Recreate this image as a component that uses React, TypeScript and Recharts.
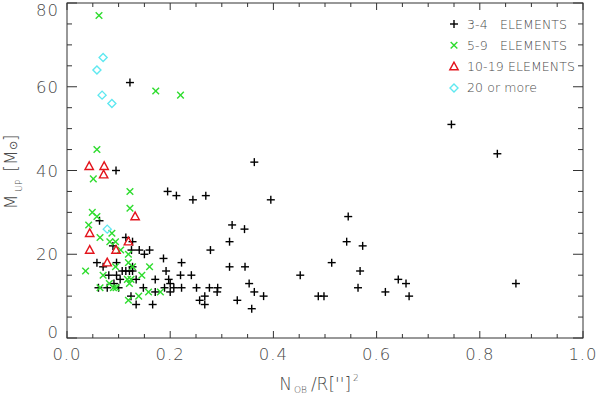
import React from "react";
import * as R from "recharts";
import { ScatterChart, Scatter, XAxis, YAxis, Customized } from "recharts";

type P = { x: number; y: number };

const elements3to4: P[] = [
  { x: 0.122, y: 61 }, { x: 0.095, y: 40 }, { x: 0.363, y: 42 }, { x: 0.745, y: 51 }, { x: 0.834, y: 44 },
  { x: 0.195, y: 35 }, { x: 0.212, y: 34 }, { x: 0.244, y: 33 }, { x: 0.269, y: 34 }, { x: 0.395, y: 33 },
  { x: 0.320, y: 27 }, { x: 0.344, y: 26 }, { x: 0.315, y: 23 }, { x: 0.278, y: 21 }, { x: 0.222, y: 18 },
  { x: 0.187, y: 19 }, { x: 0.315, y: 17 }, { x: 0.345, y: 17 }, { x: 0.192, y: 16 }, { x: 0.220, y: 15 },
  { x: 0.241, y: 15 }, { x: 0.197, y: 14 }, { x: 0.353, y: 13 }, { x: 0.200, y: 13 }, { x: 0.363, y: 11 },
  { x: 0.381, y: 10 }, { x: 0.330, y: 9 }, { x: 0.358, y: 7 }, { x: 0.257, y: 9 }, { x: 0.267, y: 10 },
  { x: 0.267, y: 8 }, { x: 0.251, y: 12 }, { x: 0.276, y: 12 }, { x: 0.292, y: 12 }, { x: 0.291, y: 11 },
  { x: 0.222, y: 12 }, { x: 0.207, y: 12 }, { x: 0.189, y: 12 }, { x: 0.200, y: 11 }, { x: 0.171, y: 11 },
  { x: 0.171, y: 14 }, { x: 0.148, y: 12 }, { x: 0.166, y: 8 }, { x: 0.134, y: 8 }, { x: 0.124, y: 10 },
  { x: 0.134, y: 14 }, { x: 0.140, y: 21 }, { x: 0.160, y: 21 }, { x: 0.150, y: 20 }, { x: 0.125, y: 21 },
  { x: 0.114, y: 24 }, { x: 0.127, y: 23 }, { x: 0.063, y: 28 }, { x: 0.058, y: 18 }, { x: 0.096, y: 18 },
  { x: 0.089, y: 22 }, { x: 0.070, y: 17 }, { x: 0.081, y: 15 }, { x: 0.096, y: 15 }, { x: 0.078, y: 12 },
  { x: 0.061, y: 12 }, { x: 0.091, y: 13 }, { x: 0.100, y: 12 }, { x: 0.103, y: 14 }, { x: 0.107, y: 16 },
  { x: 0.114, y: 16 }, { x: 0.121, y: 16 }, { x: 0.127, y: 16 }, { x: 0.127, y: 17 }, { x: 0.452, y: 15 },
  { x: 0.545, y: 29 }, { x: 0.542, y: 23 }, { x: 0.573, y: 22 }, { x: 0.513, y: 18 }, { x: 0.568, y: 16 },
  { x: 0.564, y: 12 }, { x: 0.487, y: 10 }, { x: 0.498, y: 10 }, { x: 0.617, y: 11 }, { x: 0.642, y: 14 },
  { x: 0.657, y: 13 }, { x: 0.663, y: 10 }, { x: 0.870, y: 13 },
];

const elements5to9: P[] = [
  { x: 0.062, y: 77 }, { x: 0.172, y: 59 }, { x: 0.220, y: 58 }, { x: 0.058, y: 45 }, { x: 0.051, y: 38 },
  { x: 0.122, y: 35 }, { x: 0.122, y: 31 }, { x: 0.049, y: 30 }, { x: 0.058, y: 29 }, { x: 0.042, y: 27 },
  { x: 0.064, y: 24 }, { x: 0.087, y: 25 }, { x: 0.083, y: 23 }, { x: 0.094, y: 23 }, { x: 0.036, y: 16 },
  { x: 0.070, y: 15 }, { x: 0.064, y: 12 }, { x: 0.090, y: 12 }, { x: 0.094, y: 17 }, { x: 0.104, y: 21 },
  { x: 0.119, y: 20 }, { x: 0.119, y: 18 }, { x: 0.127, y: 17 }, { x: 0.117, y: 14 }, { x: 0.121, y: 13 },
  { x: 0.124, y: 14 }, { x: 0.145, y: 15 }, { x: 0.160, y: 17 }, { x: 0.158, y: 11 }, { x: 0.181, y: 11 },
  { x: 0.139, y: 10 }, { x: 0.119, y: 9 }, { x: 0.095, y: 12 }, { x: 0.082, y: 13 },
];

const elements10to19: P[] = [
  { x: 0.043, y: 41 }, { x: 0.072, y: 41 }, { x: 0.071, y: 39 }, { x: 0.132, y: 29 }, { x: 0.044, y: 25 },
  { x: 0.119, y: 23 }, { x: 0.044, y: 21 }, { x: 0.095, y: 21 }, { x: 0.078, y: 18 },
];

const elements20plus: P[] = [
  { x: 0.070, y: 67 }, { x: 0.058, y: 64 }, { x: 0.068, y: 58 }, { x: 0.087, y: 56 }, { x: 0.078, y: 26 },
];

const xDomain = [0, 1];
const yDomain = [0, 80];
const xTicks = [0, 0.05, 0.1, 0.15, 0.2, 0.25, 0.3, 0.35, 0.4, 0.45, 0.5, 0.55, 0.6, 0.65, 0.7, 0.75, 0.8, 0.85, 0.9, 0.95, 1];
const xTickLabels = ["0.0", "", "", "", "0.2", "", "", "", "0.4", "", "", "", "0.6", "", "", "", "0.8", "", "", "", "1.0"];
const yTicks = [0, 5, 10, 15, 20, 25, 30, 35, 40, 45, 50, 55, 60, 65, 70, 75, 80];
const yTickLabels = ["0", "", "", "", "20", "", "", "", "40", "", "", "", "60", "", "", "", "80"];

const legendLabels = ["3-4   ELEMENTS", "5-9   ELEMENTS", "10-19 ELEMENTS", "20 or more"];

const AXIS = "#333333";
const TXT = "#4a4a4a";
const FONT = "'DejaVu Sans', sans-serif";
const BLACK = "#000";
const GREEN = "#2edc2e";
const RED = "#e3141c";
const CYAN = "#5fe8f0";

const Plus = (p: any) => (
  <g stroke={BLACK} strokeWidth={1.4}>
    <line x1={p.cx - 4} y1={p.cy} x2={p.cx + 4} y2={p.cy} />
    <line x1={p.cx} y1={p.cy - 4} x2={p.cx} y2={p.cy + 4} />
  </g>
);
const Cross = (p: any) => (
  <g stroke={GREEN} strokeWidth={1.4}>
    <line x1={p.cx - 3.3} y1={p.cy - 3.3} x2={p.cx + 3.3} y2={p.cy + 3.3} />
    <line x1={p.cx - 3.3} y1={p.cy + 3.3} x2={p.cx + 3.3} y2={p.cy - 3.3} />
  </g>
);
const Tri = (p: any) => (
  <polygon
    points={`${p.cx},${p.cy - 4.5} ${p.cx - 4.2},${p.cy + 3.2} ${p.cx + 4.2},${p.cy + 3.2}`}
    fill="none" stroke={RED} strokeWidth={1.4}
  />
);
const Diamond = (p: any) => (
  <polygon
    points={`${p.cx},${p.cy - 4} ${p.cx + 4},${p.cy} ${p.cx},${p.cy + 4} ${p.cx - 4},${p.cy}`}
    fill="none" stroke={CYAN} strokeWidth={1.4}
  />
);

const BottomTick = (props: any) => {
  const { x, y, index } = props;
  const lab = xTickLabels[index];
  if (!lab) return <g />;
  return (
    <text x={x} y={y + 22} textAnchor="middle" fontSize={16.5} fontFamily={FONT} fill={TXT} stroke="none" letterSpacing={1} fontWeight={300}>
      {lab}
    </text>
  );
};
const LeftTick = (props: any) => {
  const { x, y, index } = props;
  const lab = yTickLabels[index];
  if (!lab) return <g />;
  let ty = y;
  if (index === yTicks.length - 1) ty = y + 7;
  if (index === 0) ty = y - 6;
  return (
    <text x={x - 8} y={ty + 6} textAnchor="end" fontSize={16.5} fontFamily={FONT} fill={TXT} stroke="none" letterSpacing={1} fontWeight={300}>
      {lab}
    </text>
  );
};

const legendShapes = [Plus, Cross, Tri, Diamond];

const FALLBACK = { x: 67, y: 3, width: 516, height: 335 };

const Frame = () => {
  const anyR: any = R;
  const area = (anyR.usePlotArea ? anyR.usePlotArea() : null) || FALLBACK;
  const sx = (v: number) => area.x + (area.width * (v - xDomain[0])) / (xDomain[1] - xDomain[0]);
  const sy = (v: number) => area.y + area.height - (area.height * (v - yDomain[0])) / (yDomain[1] - yDomain[0]);
  const top = area.y;
  const bottom = area.y + area.height;
  const left = area.x;
  const right = area.x + area.width;
  let d = "";
  xTicks.forEach((v, i) => {
    const len = xTickLabels[i] ? 7 : 4;
    const px = sx(v);
    d += `M${px},${bottom}V${bottom - len}M${px},${top}V${top + len}`;
  });
  yTicks.forEach((v, i) => {
    const len = yTickLabels[i] ? 10 : 5;
    const py = sy(v);
    d += `M${left},${py}H${left + len}M${right},${py}H${right - len}`;
  });
  return (
    <g>
      <rect x={left} y={top} width={area.width} height={area.height} fill="none" stroke={AXIS} strokeWidth={1} />
      <path d={d} stroke={AXIS} strokeWidth={1} fill="none" />
    </g>
  );
};

const Decor = () => (
  <g fontFamily={FONT} fill={TXT}>
    <Frame />
    <text transform="translate(17,172) rotate(-90)" textAnchor="middle" fontSize={17} fontWeight={300}>
      <tspan>M</tspan>
      <tspan fontSize={9} dy={5} dx={3}>UP</tspan>
      <tspan dy={-5} dx={8}>[M</tspan>
      <tspan fontSize={11}>⊙</tspan>
      <tspan>]</tspan>
    </text>
    <text x={319} y={390} textAnchor="middle" fontSize={17} fontWeight={300}>
      <tspan>N</tspan>
      <tspan fontSize={9} dy={3} dx={2}>OB</tspan>
      <tspan dy={-3} dx={4}>/R[''</tspan>
      <tspan>]</tspan>
      <tspan fontSize={9} dy={-9} dx={2}>2</tspan>
    </text>
    {legendLabels.map((lab, i) => {
      const S = legendShapes[i];
      const cy = 24 + i * 21.3;
      return (
        <g key={lab}>
          <S cx={454} cy={cy} />
          <text x={467} y={cy + 4.5} fontSize={12.5} letterSpacing={0.1} style={{ whiteSpace: "pre" }} fontWeight={300}>
            {lab}
          </text>
        </g>
      );
    })}
  </g>
);

export default function App() {
  return (
    <div style={{ position: "absolute", left: 0, top: 0, width: 600, height: 398, background: "#fff" }}>
      <ScatterChart width={600} height={398} margin={{ top: 3, right: 17, bottom: 0, left: 0 }}>
        <XAxis
          dataKey="x" type="number" domain={xDomain} ticks={xTicks} interval={0} allowDataOverflow
          height={60} tickSize={0} tickMargin={0} tickLine={false} axisLine={false}
          tick={BottomTick}
        />
        <YAxis
          dataKey="y" type="number" domain={yDomain} ticks={yTicks} interval={0} allowDataOverflow
          width={67} tickSize={0} tickMargin={0} tickLine={false} axisLine={false}
          tick={LeftTick}
        />
        <Scatter data={elements3to4} shape={Plus} isAnimationActive={false} />
        <Scatter data={elements5to9} shape={Cross} isAnimationActive={false} />
        <Scatter data={elements10to19} shape={Tri} isAnimationActive={false} />
        <Scatter data={elements20plus} shape={Diamond} isAnimationActive={false} />
        <Customized component={Decor} />
      </ScatterChart>
    </div>
  );
}
